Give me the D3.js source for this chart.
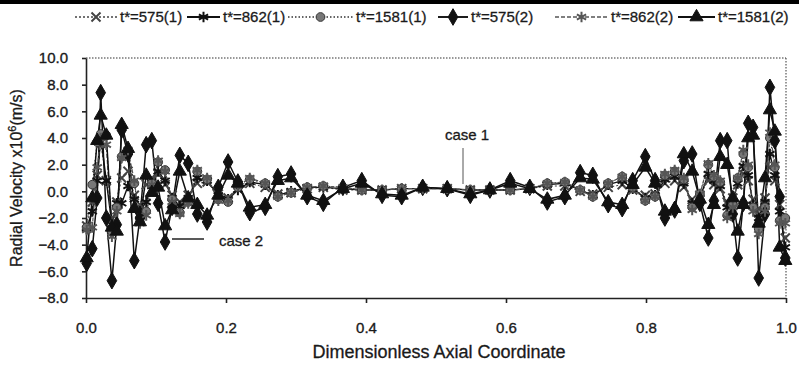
<!DOCTYPE html>
<html>
<head>
<meta charset="utf-8">
<script src="https://cdn.jsdelivr.net/npm/d3@7"></script>
<style>
  body { margin: 0; background: #fff; }
  svg { display: block; font-family: "Liberation Sans", Arial, sans-serif; }
  .axis text { font-size: 15px; fill: #1a1a1a; stroke: #1a1a1a; stroke-width: 0.35px; }
  .axis path, .axis line { stroke: #222; stroke-width: 1.6; }
  .lbl { fill: #1a1a1a; stroke: #1a1a1a; stroke-width: 0.3px; }
</style>
</head>
<body>
<svg id="chart" width="799" height="368"></svg>
<script>
// shared axial grid (dimensionless)
const xs = [0.001, 0.009, 0.016, 0.021, 0.029, 0.037, 0.044, 0.051, 0.06, 0.069,
  0.077, 0.086, 0.094, 0.103, 0.113, 0.123, 0.134, 0.146, 0.159, 0.173,
  0.189, 0.203, 0.217, 0.234, 0.256, 0.274, 0.293, 0.316, 0.339, 0.367,
  0.394, 0.423, 0.451, 0.481, 0.516, 0.549, 0.577, 0.606, 0.634, 0.659,
  0.684, 0.706, 0.724, 0.746, 0.766, 0.781, 0.799, 0.813, 0.827, 0.841,
  0.854, 0.866, 0.877, 0.889, 0.897, 0.906, 0.916, 0.924, 0.931, 0.939,
  0.946, 0.953, 0.961, 0.97, 0.977, 0.984, 0.991, 0.999];

// case 1
const t575_1 = [-2.6, -0.8, 1.2, 3.6, 0.8, -2.0, -0.8, 1.0, 1.5, -0.3,
  -1.0, 0.5, 1.0, 1.3, 0.5, -0.3, -0.8, -0.3, 0.6, 0.7,
  -0.2, -0.5, 0.2, 0.6, 0.3, -0.2, -0.1, 0.2, 0.3, 0.1,
  0.1, 0.1, 0.2, 0.2, 0.2, 0.1, 0.1, 0.1, 0.2, 0.4,
  0.4, 0.0, -0.2, 0.3, 0.5, 0.1, -0.3, -0.2, 0.6, 0.8,
  0.3, -0.6, -0.3, 0.8, 0.5, 0.2, -0.8, -0.5, 0.5, 1.3,
  0.8, -0.6, -1.3, -0.5, 1.8, 0.8, -1.0, -3.5];
const t862_1 = [-2.8, -1.5, 0.8, 4.1, 0.8, -2.5, -0.9, -0.9, 0.4, -0.6,
  -1.5, -0.8, 0.4, 1.5, 0.8, -0.5, -1.1, -0.5, 1.0, 0.8,
  -0.3, -0.6, 0.1, 0.7, 0.5, -0.3, 0.0, 0.3, 0.3, 0.2,
  0.1, 0.1, 0.2, 0.2, 0.2, 0.1, 0.1, 0.1, 0.2, 0.5,
  0.6, 0.1, -0.3, 0.5, 0.8, 0.2, -0.5, -0.3, 0.9, 1.1,
  0.6, -0.9, -0.5, 1.3, 0.8, 0.4, -1.2, -0.8, 0.6, 1.9,
  1.2, -1.0, -2.0, -0.8, 2.8, 1.2, -1.5, -4.2];
const t1581_1 = [-2.7, 0.5, 3.7, 4.3, 4.2, -3.0, -1.2, 2.6, 2.9, 0.6,
  -2.0, -1.5, 0.6, 2.2, 1.6, -0.6, -1.6, -0.8, 1.5, 0.9,
  -0.6, -0.8, 0.3, 0.9, 0.6, -0.4, -0.1, 0.3, 0.4, 0.3,
  0.1, 0.1, 0.2, 0.2, 0.2, 0.1, 0.1, 0.1, 0.2, 0.6,
  0.7, 0.1, -0.4, 0.6, 1.1, 0.3, -0.7, -0.4, 1.2, 1.5,
  0.9, -1.2, -0.2, 2.0, 1.1, 0.7, -1.8, -1.0, 1.0, 2.8,
  1.8, -1.2, -2.8, -1.2, 4.0, 1.8, -2.2, -2.0];
// case 2
const t575_2 = [-5.4, -4.3, -0.5, 7.4, -2.0, -6.7, -2.5, 4.6, 2.8, -5.2,
  -2.0, 3.5, 3.8, -0.9, -3.8, -1.2, 2.7, 2.1, -1.7, -2.3,
  0.3, 2.2, 0.7, -1.6, -1.2, 1.1, 1.3, -0.4, -0.9, 0.3,
  0.8, -0.3, -0.4, 0.3, 0.2, -0.3, 0.1, 0.8, 0.3, -0.8,
  -0.4, 1.4, 1.2, -1.0, -1.3, 0.8, 2.6, 0.8, -2.0, -1.4,
  2.3, 2.8, -0.9, -3.5, -0.7, 3.8, 3.8, -1.7, -5.0, -0.9,
  5.1, 4.8, -6.5, -1.7, 7.8, 3.8, -0.4, -5.0];
const t862_2 = [-2.9, -2.7, 1.8, 4.0, 3.5, -3.4, -1.5, 2.5, 3.1, 0.8,
  -2.4, -1.8, 0.5, 2.3, 1.5, -0.8, -1.7, -0.9, 1.6, 1.0,
  -0.7, -0.7, 0.4, 1.0, 0.6, -0.4, -0.1, 0.3, 0.4, 0.3,
  0.1, 0.1, 0.2, 0.2, 0.2, 0.1, 0.1, 0.1, 0.2, 0.6,
  0.7, 0.1, -0.4, 0.6, 1.1, 0.3, -0.7, -0.4, 1.3, 1.6,
  1.0, -1.4, -0.2, 2.1, 1.2, 0.8, -2.0, -1.2, 1.0, 3.1,
  2.0, -1.5, -3.2, -1.5, 4.4, 2.0, -2.4, -2.4];
const t1581_2 = [-5.0, -0.5, 3.8, 5.7, 4.2, -2.7, -3.0, 5.0, 3.2, -1.3,
  -2.3, 1.2, -0.1, 0.3, -2.6, -1.4, 1.5, -0.5, -1.0, -1.8,
  -0.3, 1.2, 0.6, -1.2, -1.0, 0.8, 1.0, -0.3, -0.7, 0.2,
  0.6, -0.2, -0.3, 0.3, 0.2, -0.2, 0.1, 0.6, 0.2, -0.6,
  -0.3, 1.0, 0.9, -0.8, -1.0, 0.5, 1.8, 0.6, -1.5, -1.3,
  2.8, 1.5, -0.6, -2.5, -1.0, 2.6, 2.0, -0.5, -3.0, -1.0,
  4.0, 4.2, -2.4, 1.0, 6.1, 4.5, -4.2, -5.2];

const legendLabels = ["t*=575(1)", "t*=862(1)", "t*=1581(1)", "t*=575(2)", "t*=862(2)", "t*=1581(2)"];
const yTicks = [-8, -6, -4, -2, 0, 2, 4, 6, 8, 10];
const xTicks = [0, 0.2, 0.4, 0.6, 0.8, 1.0];

const series = [
  { name: legendLabels[0], values: t575_1, dash: "2,2", sym: d3.symbolTimes, fill: "none", stroke: "#444", lw: 1, sz: 55 },
  { name: legendLabels[1], values: t862_1, dash: null, sym: d3.symbolAsterisk, fill: "none", stroke: "#111", lw: 1.4, sz: 80 },
  { name: legendLabels[2], values: t1581_1, dash: "1.5,2", sym: d3.symbolCircle, fill: "#777", stroke: "#333", lw: 1, sz: 60 },
  { name: legendLabels[3], values: t575_2, dash: null, sym: d3.symbolDiamond, fill: "#111", stroke: "#111", lw: 1.5, sz: 80 },
  { name: legendLabels[4], values: t862_2, dash: "4,2", sym: d3.symbolAsterisk, fill: "none", stroke: "#555", lw: 1.2, sz: 80 },
  { name: legendLabels[5], values: t1581_2, dash: null, sym: d3.symbolTriangle, fill: "#111", stroke: "#111", lw: 1.5, sz: 75 }
];

const svg = d3.select("#chart");
const margin = { left: 86, right: 13, top: 58, bottom: 70 };
const W = 799, H = 368;

const x = d3.scaleLinear().domain([0, 1]).range([margin.left, W - margin.right]);
const y = d3.scaleLinear().domain([-8, 10]).range([H - margin.bottom, margin.top]);

// scan edge at the top
svg.append("rect").attr("x", 0).attr("y", 0).attr("width", W).attr("height", 4).attr("fill", "#000");

// dotted top and right frame
svg.append("line").attr("x1", x(0)).attr("x2", x(1)).attr("y1", y(10)).attr("y2", y(10))
  .attr("stroke", "#333").attr("stroke-width", 1.2).attr("stroke-dasharray", "1.5,1.5");
svg.append("line").attr("x1", x(1)).attr("x2", x(1)).attr("y1", y(10)).attr("y2", y(-8))
  .attr("stroke", "#555").attr("stroke-width", 1.2).attr("stroke-dasharray", "1.5,1.5");

svg.append("g").attr("class", "axis")
  .attr("transform", `translate(${x(0)},0)`)
  .call(d3.axisLeft(y).tickValues(yTicks).tickSize(4).tickPadding(14).tickFormat(d3.format(".1f")).tickSizeOuter(0));

svg.append("g").attr("class", "axis")
  .attr("transform", `translate(0,${y(-8)})`)
  .call(d3.axisBottom(x).tickValues(xTicks).tickSize(5).tickPadding(19).tickFormat(d3.format(".1f")).tickSizeOuter(0));

// lines and markers
const line = d3.line().x((d, i) => x(xs[i])).y(d => y(d));
const plot = svg.append("g");
series.forEach(s => {
  plot.append("path").datum(s.values)
    .attr("d", line)
    .attr("fill", "none")
    .attr("stroke", s.stroke)
    .attr("stroke-width", s.lw)
    .attr("stroke-dasharray", s.dash);
});
series.forEach(s => {
  plot.selectAll(null).data(s.values).enter().append("path")
    .attr("transform", (d, i) => `translate(${x(xs[i])},${y(d)})`)
    .attr("d", d3.symbol(s.sym, s.sz))
    .attr("fill", s.fill)
    .attr("stroke", s.stroke)
    .attr("stroke-width", s.fill === "none" ? 2 : 1);
});

// annotations
svg.append("text").attr("class", "lbl").attr("x", 445).attr("y", 140).attr("font-size", 15).text("case 1");
svg.append("line").attr("x1", 463).attr("x2", 463).attr("y1", 148).attr("y2", 184).attr("stroke", "#555").attr("stroke-width", 1);
svg.append("text").attr("class", "lbl").attr("x", 219).attr("y", 246).attr("font-size", 15).text("case 2");
svg.append("line").attr("x1", 172).attr("x2", 204).attr("y1", 239).attr("y2", 239).attr("stroke", "#222").attr("stroke-width", 1.5);

// axis titles
svg.append("text").attr("class", "lbl")
  .attr("transform", `translate(22,${(y(10) + y(-8)) / 2}) rotate(-90)`)
  .attr("text-anchor", "middle").attr("font-size", 16)
  .call(t => {
    t.append("tspan").text("Radial Velocity x10");
    t.append("tspan").attr("font-size", 11).attr("dy", -6).text("6");
    t.append("tspan").attr("dy", 6).text("(m/s)");
  });
svg.append("text").attr("class", "lbl").attr("x", (x(0) + x(1)) / 2 + 3).attr("y", 358)
  .attr("text-anchor", "middle").attr("font-size", 18)
  .text("Dimensionless Axial Coordinate");

// legend
const legendPos = [[75, 117], [187, 220], [288, 353], [438, 468], [555, 608], [678, 715]];
const lg = svg.append("g");
series.forEach((s, i) => {
  const [a, b] = legendPos[i];
  lg.append("line").attr("x1", a).attr("x2", b).attr("y1", 17).attr("y2", 17)
    .attr("stroke", s.stroke).attr("stroke-width", s.lw + 0.4).attr("stroke-dasharray", s.dash);
  lg.append("path").attr("transform", `translate(${(a + b) / 2},17)`)
    .attr("d", d3.symbol(s.sym, s.sz))
    .attr("fill", s.fill).attr("stroke", s.stroke).attr("stroke-width", s.fill === "none" ? 2 : 1);
  lg.append("text").attr("class", "lbl").attr("x", b + 3).attr("y", 22).attr("font-size", 15).text(s.name);
});
</script>
</body>
</html>
